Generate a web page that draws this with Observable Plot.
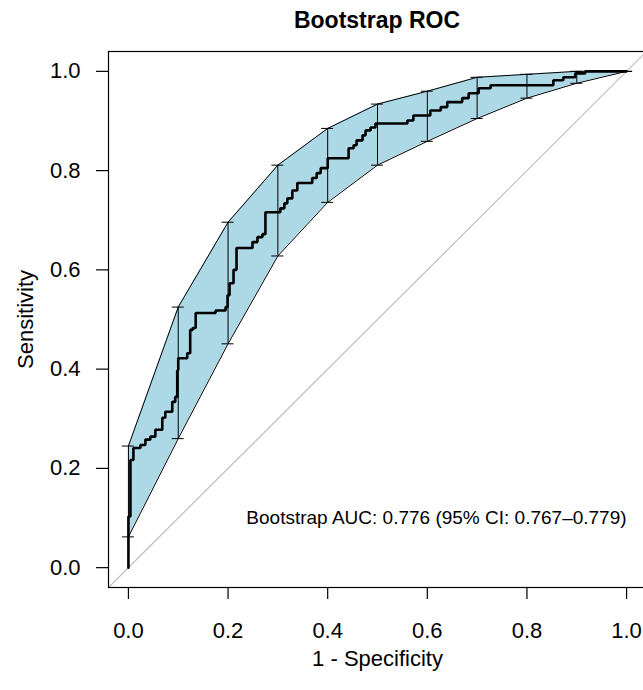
<!DOCTYPE html>
<html>
<head>
<meta charset="utf-8">
<script src="https://cdn.jsdelivr.net/npm/d3@7"></script>
<script src="https://cdn.jsdelivr.net/npm/@observablehq/plot@0.6"></script>
<style>
  html, body { margin: 0; padding: 0; background: #fff; overflow: hidden; }
  #wrap { position: relative; width: 643px; height: 690px; }
  #title { position: absolute; left: 0; top: 0; width: 754px; height: 40px;
           text-align: center; font: bold 23px "Liberation Sans", Arial, sans-serif; line-height: 40px; color: #000; }
  #chart { position: absolute; left: 0; top: 40px; }
</style>
</head>
<body>
<div id="wrap">
  <div id="title">Bootstrap ROC</div>
  <div id="chart"></div>
</div>
<script>
// ROC curve vertices (1 - specificity, sensitivity), drawn as steps
const rocFpr = [0, 0, 0.004, 0.010, 0.024, 0.034, 0.044, 0.054, 0.068, 0.074, 0.088, 0.094, 0.098, 0.100,
  0.118, 0.124, 0.129, 0.135, 0.175, 0.195, 0.199, 0.203, 0.211, 0.217, 0.249, 0.259, 0.269, 0.275,
  0.305, 0.313, 0.319, 0.329, 0.339, 0.369, 0.378, 0.386, 0.400, 0.442, 0.452, 0.458, 0.470, 0.476,
  0.486, 0.496, 0.560, 0.572, 0.606, 0.627, 0.640, 0.670, 0.683, 0.703, 0.727, 0.853, 0.873, 0.897,
  0.917, 1.0];
const rocTpr = [0, 0.103, 0.217, 0.241, 0.247, 0.258, 0.264, 0.278, 0.302, 0.314, 0.334, 0.344, 0.398, 0.422,
  0.432, 0.479, 0.483, 0.513, 0.518, 0.525, 0.549, 0.573, 0.600, 0.644, 0.656, 0.666, 0.672, 0.716,
  0.724, 0.734, 0.744, 0.760, 0.775, 0.785, 0.795, 0.805, 0.825, 0.845, 0.851, 0.861, 0.871, 0.881,
  0.887, 0.895, 0.901, 0.911, 0.921, 0.928, 0.938, 0.946, 0.956, 0.966, 0.972, 0.982, 0.988, 0.996,
  1.0, 1.0];

// Bootstrap confidence band of sensitivity
const ciFpr   = [0, 0.1, 0.2, 0.3, 0.4, 0.5, 0.6, 0.7, 0.8, 0.9, 1.0];
const ciLower = [0.062, 0.260, 0.451, 0.628, 0.736, 0.811, 0.859, 0.905, 0.946, 0.976, 1.0];
const ciUpper = [0.245, 0.525, 0.696, 0.811, 0.885, 0.934, 0.960, 0.988, 0.994, 1.000, 1.0];

const xTicks = [0, 0.2, 0.4, 0.6, 0.8, 1.0];
const yTicks = [0, 0.2, 0.4, 0.6, 0.8, 1.0];
const diagonal = [-0.04, 1.04];
const xLabel = "1 - Specificity";
const yLabel = "Sensitivity";
const aucText = "Bootstrap AUC: 0.776 (95% CI: 0.767\u20130.779)";
const aucPos = {x: 1.0, y: 0.1};

const roc = rocFpr.map((x, i) => ({x, y: rocTpr[i]}));
const ci = ciFpr.map((x, i) => ({x, lo: ciLower[i], hi: ciUpper[i]}));
const capHalf = 0.012;
const font = "Liberation Sans, Arial, sans-serif";

const chart = Plot.plot({
  width: 643,
  height: 650,
  marginLeft: 108,
  marginRight: -3,
  marginTop: 11,
  marginBottom: 103,
  style: {fontFamily: font, fontSize: "22px", background: "white", overflow: "visible"},
  x: {domain: [-0.04, 1.04]},
  y: {domain: [-0.04, 1.04]},
  marks: [
    Plot.areaY(ci, {x: "x", y1: "lo", y2: "hi", fill: "#ADD8E6"}),
    Plot.line(ci, {x: "x", y: "hi", stroke: "black", strokeWidth: 1}),
    Plot.line(ci, {x: "x", y: "lo", stroke: "black", strokeWidth: 1}),
    Plot.ruleX(ci, {x: "x", y1: "lo", y2: "hi", stroke: "black", strokeWidth: 1}),
    Plot.ruleY(ci, {y: "lo", x1: d => d.x - capHalf, x2: d => d.x + capHalf, stroke: "black", strokeWidth: 1}),
    Plot.ruleY(ci, {y: "hi", x1: d => d.x - capHalf, x2: d => d.x + capHalf, stroke: "black", strokeWidth: 1}),
    Plot.line(diagonal.map(v => ({x: v, y: v})), {x: "x", y: "y", stroke: "#bebebe", strokeWidth: 1.2}),
    Plot.line(roc, {x: "x", y: "y", curve: "step-after", stroke: "black", strokeWidth: 2.6, strokeLinejoin: "miter"}),
    Plot.text([aucText], {x: aucPos.x, y: aucPos.y, text: d => d, textAnchor: "end", fontSize: 19, fill: "black"}),
    Plot.frame({stroke: "black", strokeWidth: 1.2}),
    Plot.axisX(xTicks, {label: null, tickSize: 12, tickPadding: 23, fontSize: 22, tickFormat: d3.format(".1f"), stroke: "black", strokeWidth: 1.2, fill: "black"}),
    Plot.axisY(yTicks, {label: null, tickSize: 12, tickPadding: 16, fontSize: 22, tickFormat: d3.format(".1f"), stroke: "black", strokeWidth: 1.2, fill: "black"}),
    Plot.text([xLabel], {x: 0.5, frameAnchor: "bottom", dy: 71, text: d => d, fontSize: 22, fill: "black", textAnchor: "middle", lineAnchor: "middle"}),
    Plot.text([yLabel], {y: 0.5, frameAnchor: "left", dx: -83, rotate: -90, text: d => d, fontSize: 22, fill: "black", textAnchor: "middle", lineAnchor: "middle"})
  ]
});
document.getElementById("chart").appendChild(chart);
</script>
</body>
</html>
